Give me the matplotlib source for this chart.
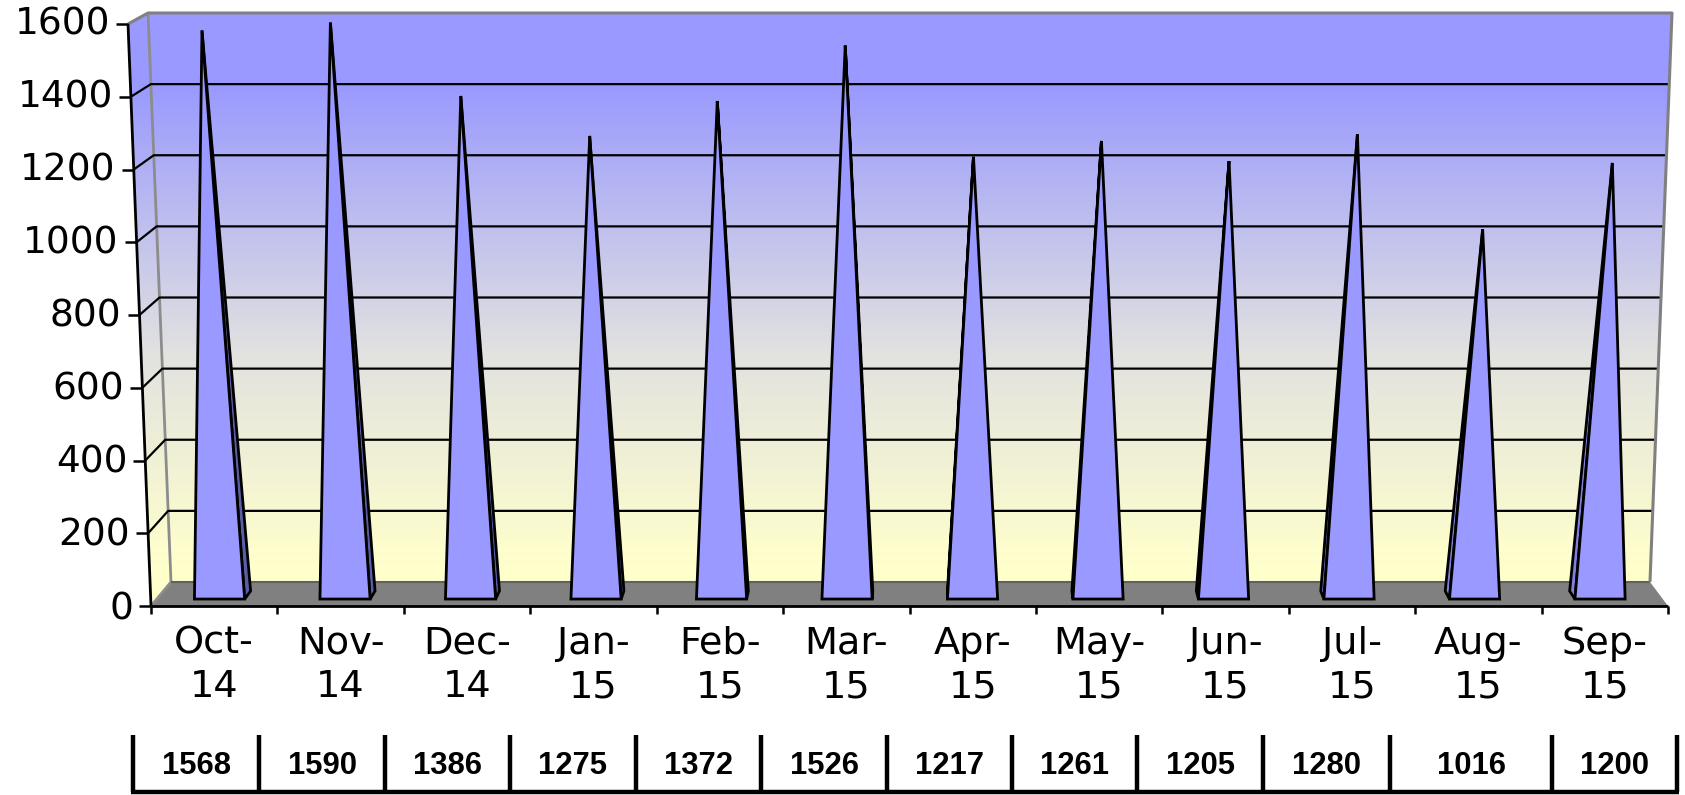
#!/usr/bin/env python3
"""Excel-style 3D pyramid column chart, monthly counts Oct-14 to Sep-15."""

import matplotlib
matplotlib.use("Agg")
import matplotlib.pyplot as plt
import numpy as np
from matplotlib.colors import LinearSegmentedColormap
from matplotlib.patches import Polygon

months = ["Oct-", "Nov-", "Dec-", "Jan-", "Feb-", "Mar-", "Apr-", "May-", "Jun-", "Jul-", "Aug-", "Sep-"]
years = ["14", "14", "14", "15", "15", "15", "15", "15", "15", "15", "15", "15"]
plotted = [1568, 1590, 1386, 1275, 1372, 1526, 1217, 1261, 1205, 1280, 1016, 1200]
table_values = [1568, 1590, 1386, 1275, 1372, 1526, 1217, 1261, 1205, 1280, 1016, 1200]
y_ticks = [0, 200, 400, 600, 800, 1000, 1200, 1400, 1600]
table_edges_px = [133, 259, 385, 510, 636, 761, 887, 1012, 1137, 1263, 1390, 1552, 1677]

W, H = 1685, 795
X0, X1 = 151, 1668   # front floor edge, px
Y0, Y1 = 606, 24     # front value 0 / 1600, px
VMAX = 1600
BAR_HALF = 0.2
D_FRONT, D_BACK, D_APEX = 0.29, 0.625, 0.46

fig = plt.figure(figsize=(W / 100, H / 100), dpi=100)
ax = fig.add_axes([X0 / W, 1 - Y0 / H, (X1 - X0) / W, (Y0 - Y1) / H])
ax.axis("off")


def to_data(px, py):
    return (px - X0) / (X1 - X0) * 12, (Y0 - py) / (Y0 - Y1) * VMAX


def project(x, v, d):
    """Category x, value v, depth d (0 front, 1 back wall) to axes data coords."""
    t = v / VMAX
    left = 151 + 20 * d - 23 * t
    right = 1668 - 18 * d + 22 * t
    py = (606 - 24 * d) - (582 - 13 * d) * t
    return to_data(left + (right - left) * x / 12, py)


def line(points, color="black", lw=1.5, z=3):
    xs, ys = zip(*points)
    ax.plot(xs, ys, color=color, lw=lw, zorder=z, clip_on=False, solid_capstyle="butt")


# walls: gradient image clipped to back wall plus left wall
wall_cmap = LinearSegmentedColormap.from_list(
    "wall", [(0, "#9999ff"), (0.13, "#9999ff"), (0.58, "#e2e2e0"), (0.93, "#ffffcc"), (1, "#ffffcc")]
)
grad = np.linspace(0, 1, 256).reshape(-1, 1)
im = ax.imshow(grad, cmap=wall_cmap, aspect="auto", zorder=1,
               extent=[-1, 13, 0, 1.03 * VMAX], origin="upper")
outline = [project(0, 0, 0), project(0, VMAX, 0), project(0, VMAX, 1),
           project(12, VMAX, 1), project(12, 0, 1), project(0, 0, 1)]
clip = Polygon(outline, closed=True, transform=ax.transData, facecolor="none", edgecolor="none")
ax.add_patch(clip)
im.set_clip_path(clip)
im.set_clip_box(fig.bbox)

# floor
ax.add_patch(Polygon([project(0, 0, 0), project(0, 0, 1), project(12, 0, 1), project(12, 0, 0)],
                     closed=True, facecolor="#808080", edgecolor="none", zorder=2, clip_on=False))
line([project(0, 0, 1), project(12, 0, 1)], color="#606060", lw=1.5)

# gridlines
for v in y_ticks[1:-1]:
    line([project(0, v, 0), project(0, v, 1), project(12, v, 1)], lw=1.6)

# wall edges
line([project(0, VMAX, 0), project(0, VMAX, 1), project(12, VMAX, 1), project(12, 0, 1)],
     color="#808080", lw=2.2, z=4)
line([project(0, VMAX, 1), project(0, 0, 1), project(0, 0, 0)], color="#8c8c8c", lw=2.0, z=2.5)

# pyramids
for i, val in enumerate(plotted):
    c = i + 0.5
    apex = project(c, val, D_APEX)
    fl, fr = project(c - BAR_HALF, 0, D_FRONT), project(c + BAR_HALF, 0, D_FRONT)
    if c < 6:
        side = [fr, project(c + BAR_HALF, 0, D_BACK), apex]
        side_color = "#5a5fa5"
    else:
        side = [fl, project(c - BAR_HALF, 0, D_BACK), apex]
        side_color = "#8080d8"
    ax.add_patch(Polygon(side, closed=True, facecolor=side_color, edgecolor="black",
                         lw=2.0, joinstyle="miter", zorder=5, clip_on=False))
    ax.add_patch(Polygon([fl, fr, apex], closed=True, facecolor="#9999ff", edgecolor="black",
                         lw=2.0, joinstyle="miter", zorder=6, clip_on=False))

# value axis, slanted with the front plane
line([project(0, 0, 0), project(0, VMAX, 0)], lw=2.0, z=7)
for v in y_ticks:
    px0, py0 = project(0, v, 0)
    line([(px0 - 12 / (X1 - X0) * 12, py0), (px0, py0)], lw=1.8, z=7)
    # labels sit a little below their ticks, less so toward the top
    drop_px = 3 - 3 * v / VMAX
    ax.text(px0 - 18 / (X1 - X0) * 12, py0 - drop_px / (Y0 - Y1) * VMAX, str(v), ha="right", va="center",
            fontsize=27, family="DejaVu Sans", color="black", clip_on=False)

# category axis
line([project(0, 0, 0), project(12, 0, 0)], lw=2.0, z=7)
for i in range(13):
    xd, yd = project(i, 0, 0)
    line([(xd, yd), (xd, yd - 8 / (Y0 - Y1) * VMAX)], lw=1.8, z=7)

for i, (m, yr) in enumerate(zip(months, years)):
    xd = i + 0.5
    ax.text(xd, to_data(0, 644)[1], m, ha="center", va="center", fontsize=27.5,
            family="DejaVu Sans", clip_on=False)
    ax.text(xd, to_data(0, 687)[1], yr, ha="center", va="center", fontsize=27.5,
            family="DejaVu Sans", clip_on=False)

# value table underneath
top = to_data(0, 735)[1]
bot = to_data(0, 792)[1]
for ex in table_edges_px:
    xd = to_data(ex, 0)[0]
    line([(xd, top), (xd, bot)], lw=3.2, z=7)
line([(to_data(table_edges_px[0] - 2, 0)[0], bot), (to_data(table_edges_px[-1] + 2, 0)[0], bot)], lw=3.2, z=7)
for i, val in enumerate(table_values):
    mid = (table_edges_px[i] + table_edges_px[i + 1]) / 2
    ax.text(to_data(mid, 0)[0], to_data(0, 766)[1], str(val), ha="center", va="center",
            fontsize=22.3, fontweight="bold", family="Liberation Sans", clip_on=False)

ax.set_xlim(0, 12)
ax.set_ylim(0, VMAX)
fig.savefig("out.png", dpi=100, facecolor="white")
plt.close(fig)
